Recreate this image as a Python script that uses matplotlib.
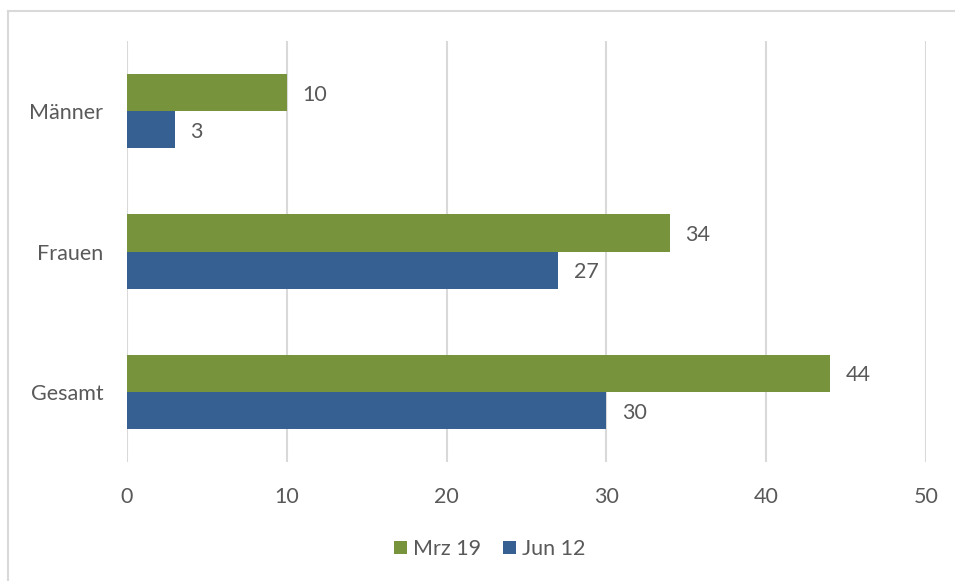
import matplotlib
matplotlib.use("Agg")
import matplotlib.pyplot as plt
from matplotlib.lines import Line2D
import numpy as np

categories = ["Gesamt", "Frauen", "Männer"]
mrz19 = [44, 34, 10]
jun12 = [30, 27, 3]
series_names = ["Mrz 19", "Jun 12"]
xticks = [0, 10, 20, 30, 40, 50]

green = "#77933C"
blue = "#366092"
text_col = "#595959"
grid_col = "#D9D9D9"
fs = 15.5

plt.rcParams["font.family"] = ["Lato", "DejaVu Sans"]

fig = plt.figure(figsize=(9.55, 5.81), dpi=100)
ax = fig.add_axes([0.133, 0.2048, 0.8366, 0.7246])

y = np.arange(len(categories))
h = 0.265
b1 = ax.barh(y + h / 2, mrz19, height=h, color=green, label=series_names[0], zorder=3)
b2 = ax.barh(y - h / 2, jun12, height=h, color=blue, label=series_names[1], zorder=3)

for bars, vals in ((b1, mrz19), (b2, jun12)):
    for bar, v in zip(bars, vals):
        ax.annotate(str(v), (v, bar.get_y() + bar.get_height() / 2),
                    xytext=(11, -1.5), textcoords="offset points",
                    va="center", ha="left", fontsize=fs, color=text_col)

ax.set_xlim(0, 50)
ax.set_ylim(-0.5, 2.5)
ax.set_xticks(xticks)
ax.set_xticklabels([str(t) for t in xticks])
ax.set_yticks(y)
ax.set_yticklabels(categories)
ax.tick_params(axis="both", length=0, labelsize=fs, labelcolor=text_col)
ax.tick_params(axis="x", pad=18)
ax.tick_params(axis="y", pad=17)
ax.grid(axis="x", color=grid_col, linewidth=1.5, zorder=0)
for s in ax.spines.values():
    s.set_visible(False)

ax.legend(loc="center", bbox_to_anchor=(0.513, 1 - 549 / 581), bbox_transform=fig.transFigure,
          ncol=2, frameon=False, fontsize=fs, labelcolor=text_col,
          handlelength=0.6, handleheight=0.6, handletextpad=0.3, columnspacing=1.0)

# outer frame lines (top and left)
fig.add_artist(Line2D([7.5 / 955, 1], [1 - 11 / 581, 1 - 11 / 581], transform=fig.transFigure,
                      color="#D9D9D9", linewidth=1.5))
fig.add_artist(Line2D([7.5 / 955, 7.5 / 955], [0, 1 - 11 / 581], transform=fig.transFigure,
                      color="#D9D9D9", linewidth=1.5))

fig.savefig("out.png", dpi=100)
